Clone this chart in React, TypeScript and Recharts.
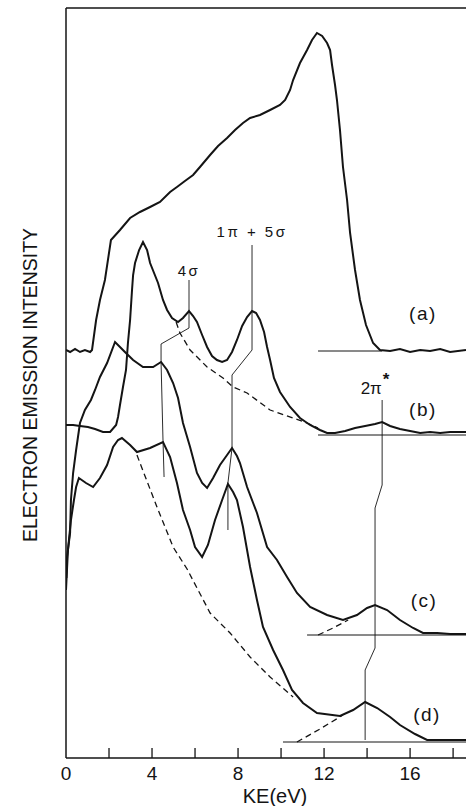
import { LineChart, Line, XAxis, YAxis, ReferenceLine, ReferenceDot } from 'recharts';

type Pt = [number, number];

// traces: [KE (eV), intensity (arb. units, traces offset)]
const curveA: Pt[] = [
  [0, 408], [0.19, 406], [0.42, 409], [0.65, 406], [0.88, 408], [1.12, 406], [1.21, 408],
  [1.4, 438], [1.58, 458], [1.81, 478], [2.09, 518], [2.51, 528], [2.98, 540], [3.44, 546],
  [3.91, 551], [4.37, 556], [4.84, 566], [5.16, 571], [5.53, 577], [5.91, 583], [6.23, 591],
  [6.7, 603], [7.07, 612], [7.49, 620], [7.86, 628], [8.23, 635], [8.56, 640], [9.02, 643],
  [9.49, 648], [9.95, 653], [10.19, 658], [10.42, 668], [10.56, 678], [10.88, 695], [11.21, 708],
  [11.44, 718], [11.67, 725], [11.91, 722], [12.14, 715], [12.28, 708], [12.37, 693], [12.51, 673],
  [12.6, 658], [12.74, 628], [12.88, 591], [13.07, 558], [13.21, 525], [13.44, 488], [13.67, 458],
  [13.95, 433], [14.28, 415], [14.6, 408], [15.07, 407], [15.53, 409], [16.0, 406], [16.47, 408],
  [16.93, 407], [17.4, 409], [17.86, 406], [18.6, 408],
];

const curveB: Pt[] = [
  [0, 333], [0.33, 333], [0.65, 332], [1.02, 331], [1.35, 329], [1.72, 326], [2.05, 326],
  [2.33, 333], [2.42, 341], [2.51, 353], [2.65, 371], [2.79, 388], [2.88, 415], [2.98, 438],
  [3.07, 468], [3.12, 483], [3.21, 495], [3.4, 508], [3.58, 516], [3.77, 508], [3.91, 495],
  [4.28, 475], [4.51, 458], [4.7, 448], [4.93, 440], [5.21, 436], [5.44, 440], [5.72, 447],
  [5.91, 442], [6.09, 436], [6.33, 423], [6.56, 411], [6.79, 402], [7.02, 398], [7.26, 396],
  [7.49, 398], [7.72, 406], [7.95, 418], [8.19, 432], [8.42, 441], [8.65, 447], [8.84, 445],
  [9.02, 438], [9.21, 426], [9.35, 411], [9.49, 398], [9.67, 380], [9.95, 366], [10.42, 351],
  [10.88, 340], [11.35, 333], [11.81, 328], [12.14, 325], [12.51, 325], [12.98, 327], [13.44, 330],
  [13.91, 332], [14.37, 334], [14.7, 336], [15.07, 332], [15.53, 329], [16.0, 327], [16.47, 325],
  [16.93, 326], [17.4, 325], [17.86, 326], [18.6, 326],
];

const curveC: Pt[] = [
  [0.02, 180], [0.05, 201], [0.19, 225], [0.23, 258], [0.33, 285], [0.47, 308], [0.65, 335],
  [0.88, 348], [1.16, 358], [1.35, 368], [1.58, 381], [1.91, 395], [2.28, 416], [2.51, 411],
  [2.74, 406], [3.12, 398], [3.58, 391], [4.05, 391], [4.42, 396], [4.7, 388], [4.98, 375],
  [5.21, 360], [5.44, 335], [5.77, 311], [6.09, 285], [6.33, 275], [6.56, 270], [6.84, 280],
  [7.16, 293], [7.49, 303], [7.72, 310], [7.95, 302], [8.09, 295], [8.42, 271], [8.88, 245],
  [9.35, 211], [9.81, 198], [10.28, 181], [10.74, 165], [11.35, 151], [12.14, 143], [12.88, 138],
  [13.53, 143], [14.0, 150], [14.37, 153], [14.93, 148], [15.53, 138], [16.14, 130], [16.6, 125],
  [17.26, 125], [17.86, 124], [18.6, 124],
];

const curveD: Pt[] = [
  [0, 168], [0.09, 208], [0.23, 238], [0.37, 258], [0.47, 271], [0.6, 280], [0.93, 275],
  [1.26, 271], [1.58, 280], [1.91, 293], [2.19, 311], [2.42, 318], [2.6, 320], [2.98, 313],
  [3.3, 306], [3.91, 310], [4.51, 316], [4.84, 301], [5.16, 275], [5.44, 248], [5.77, 228],
  [6.0, 211], [6.33, 201], [6.6, 213], [6.93, 238], [7.26, 258], [7.53, 274], [7.77, 266],
  [7.95, 258], [8.23, 231], [8.56, 191], [8.88, 158], [9.16, 131], [9.63, 108], [10.09, 88],
  [10.51, 68], [11.02, 55], [11.67, 45], [12.74, 42], [13.35, 48], [13.91, 56], [14.47, 50],
  [15.07, 41], [15.53, 33], [16.23, 24], [16.79, 18], [17.4, 18], [18.6, 18],
];

// zero lines drawn under each trace
const baseA: Pt[] = [[11.72, 407], [14.7, 407]];
const baseB: Pt[] = [[11.72, 323], [18.6, 323]];
const baseC: Pt[] = [[11.21, 123], [18.6, 123]];
const baseD: Pt[] = [[10.09, 16], [18.6, 16]];

// dashed backgrounds
const bgB: Pt[] = [
  [5.12, 436], [5.3, 425], [5.77, 408], [6.56, 391], [7.3, 380], [7.77, 371], [8.42, 365],
  [9.49, 348], [10.56, 340], [11.21, 335], [11.72, 330],
];
const bgD: Pt[] = [
  [3.3, 303], [3.44, 295], [4.23, 251], [4.98, 211], [5.63, 189], [6.7, 145], [7.63, 125],
  [8.56, 101], [9.49, 81], [10.56, 61],
];
const bgC2pi: Pt[] = [[11.72, 123], [12.42, 130], [13.12, 138]];
const bgD2pi: Pt[] = [[10.74, 16], [11.81, 29], [12.88, 43]];

// peak marker lines
const mark4s: Pt[] = [[5.72, 478], [5.72, 430], [4.42, 414], [4.42, 396], [4.51, 318], [4.56, 281]];
const mark1p5s: Pt[] = [[8.65, 513], [8.65, 408], [7.72, 383], [7.72, 310], [7.53, 275], [7.53, 228]];
const mark2pi: Pt[] = [[14.7, 358], [14.7, 273], [14.37, 250], [14.37, 110], [13.91, 88], [13.91, 18]];

const TICKS = [0, 2, 4, 6, 8, 10, 12, 14, 16, 18];
const TICK_LABELS = [0, 4, 8, 12, 16];

const traceLabels = [
  { ke: 16.6, i: 444, text: '(a)' },
  { ke: 16.6, i: 348, text: '(b)' },
  { ke: 16.65, i: 157, text: '(c)' },
  { ke: 16.79, i: 43, text: '(d)' },
];
const peakLabels = [
  { ke: 5.72, i: 487, text: '4σ' },
  { ke: 8.65, i: 526, text: '1π + 5σ' },
];

const FONT = '"Liberation Sans", Arial, sans-serif';
const INK = '#141414';

const rows = (pts: Pt[]) => pts.map(([ke, i]) => ({ ke, i }));

function KeTick({ x, y, payload }: any) {
  const v = payload.value;
  return (
    <g>
      {v > 0 && <line x1={x} y1={y} x2={x} y2={y - 10} stroke={INK} strokeWidth={1.3} />}
      {TICK_LABELS.includes(v) && (
        <text x={x} y={y + 22} textAnchor="middle" fontSize={19} fill={INK} fontFamily={FONT}>
          {v}
        </text>
      )}
    </g>
  );
}

function IntensityLabel({ viewBox }: any) {
  const cx = viewBox.x - 36;
  const cy = viewBox.y + viewBox.height / 2 + 2;
  return (
    <text
      x={cx}
      y={cy}
      transform={`rotate(-90 ${cx} ${cy})`}
      textAnchor="middle"
      dominantBaseline="central"
      fontSize={19.5}
      fill={INK}
      fontFamily={FONT}
    >
      ELECTRON EMISSION INTENSITY
    </text>
  );
}

export default function App() {
  const thick = { dot: false, activeDot: false, stroke: INK, strokeWidth: 2, isAnimationActive: false, dataKey: 'i', type: 'linear' as const };
  const thin = { ...thick, strokeWidth: 0.9 };
  const dashed = { ...thick, strokeWidth: 1.3, strokeDasharray: '6 4' };

  return (
    <div>
      <style>{'body{margin:0}'}</style>
      <LineChart width={466} height={806} margin={{ top: 8, right: 0, left: 66, bottom: 0 }}>
        <XAxis
          dataKey="ke"
          type="number"
          domain={[0, 18.6]}
          allowDataOverflow
          ticks={TICKS}
          interval={0}
          height={48}
          tickSize={0}
          tickMargin={0}
          tickLine={false}
          tick={<KeTick />}
          axisLine={{ stroke: INK, strokeWidth: 1.5 }}
          label={{
            content: (p: any) => {
              const vb = p.viewBox;
              return (
                <text x={vb.x + vb.width / 2 + 9} y={vb.y + 45} textAnchor="middle" fontSize={20} fill={INK} fontFamily={FONT}>
                  KE(eV)
                </text>
              );
            },
          }}
        />
        <YAxis type="number" domain={[0, 750]} allowDataOverflow hide />
        <ReferenceLine y={750} stroke={INK} strokeWidth={1.3} />
        <ReferenceLine x={0} stroke={INK} strokeWidth={1.5} label={{ content: (p: any) => <IntensityLabel viewBox={p.viewBox} /> }} />

        <Line {...thin} data={rows(baseA)} strokeWidth={1} />
        <Line {...thin} data={rows(baseB)} strokeWidth={1} />
        <Line {...thin} data={rows(baseC)} strokeWidth={1} />
        <Line {...thin} data={rows(baseD)} strokeWidth={1} />

        <Line {...dashed} data={rows(bgB)} />
        <Line {...dashed} data={rows(bgD)} />
        <Line {...dashed} data={rows(bgC2pi)} />
        <Line {...dashed} data={rows(bgD2pi)} />

        <Line {...thin} data={rows(mark4s)} />
        <Line {...thin} data={rows(mark1p5s)} />
        <Line {...thin} data={rows(mark2pi)} />

        <Line {...thick} data={rows(curveA)} />
        <Line {...thick} data={rows(curveB)} />
        <Line {...thick} data={rows(curveC)} />
        <Line {...thick} data={rows(curveD)} />

        {traceLabels.map((l) => (
          <ReferenceDot
            key={l.text}
            x={l.ke}
            y={l.i}
            r={0}
            shape={(p: any) => (
              <text x={p.cx} y={p.cy} dy={6} textAnchor="middle" fontSize={19} letterSpacing={1.5} fill={INK} fontFamily={FONT}>
                {l.text}
              </text>
            )}
          />
        ))}
        {peakLabels.map((l) => (
          <ReferenceDot
            key={l.text}
            x={l.ke}
            y={l.i}
            r={0}
            shape={(p: any) => (
              <text x={p.cx} y={p.cy} dy={5} textAnchor="middle" fontSize={15} letterSpacing={2.5} fill={INK} fontFamily={FONT}>
                {l.text}
              </text>
            )}
          />
        ))}
        <ReferenceDot
          x={14.37}
          y={370}
          r={0}
          shape={(p: any) => (
            <text x={p.cx} y={p.cy} dy={6} textAnchor="middle" fontSize={17} fill={INK} fontFamily={FONT}>
              2π
              <tspan dx={1} dy={-9} fontSize={17} fontWeight="bold">*</tspan>
            </text>
          )}
        />
      </LineChart>
    </div>
  );
}
